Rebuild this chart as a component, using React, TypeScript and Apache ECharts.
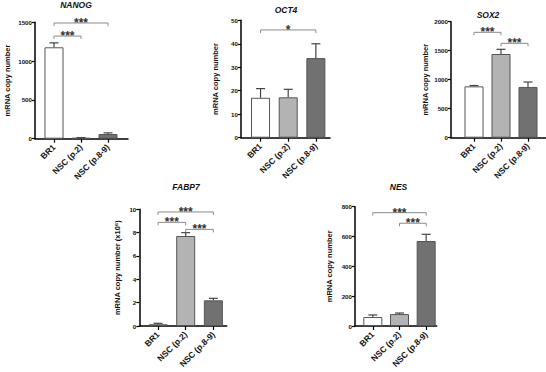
import React, { useEffect, useRef } from "react";
import * as echarts from "echarts";

const categories = ["BR1", "NSC (p.2)", "NSC (p.8-9)"];
const barColors = ["#ffffff", "#b3b3b3", "#717171"];

const nanogMean = [1178, 10, 60];
const nanogUpper = [1235, 14, 75];
const nanogSig = [[0, 1, 1323], [0, 2, 1491]];
const nanogSigLabels = ["***", "***"];

const oct4Mean = [17.0, 17.2, 33.9];
const oct4Upper = [20.9, 20.6, 40.0];
const oct4Sig = [[0, 2, 45.9]];
const oct4SigLabels = ["*"];

const sox2Mean = [885, 1443, 875];
const sox2Upper = [900, 1524, 960];
const sox2Sig = [[0, 1, 1817], [1, 2, 1627]];
const sox2SigLabels = ["***", "***"];

const fabp7Mean = [0.15, 7.71, 2.2];
const fabp7Upper = [0.23, 8.0, 2.37];
const fabp7Sig = [[0, 2, 9.77], [0, 1, 8.88], [1, 2, 8.28]];
const fabp7SigLabels = ["***", "***", "***"];

const nesMean = [60, 80, 570];
const nesUpper = [74, 87, 615];
const nesSig = [[0, 2, 760], [1, 2, 689]];
const nesSigLabels = ["***", "***"];

const yMax = [1500, 50, 2000, 10, 800];
const yInterval = [500, 10, 500, 2, 200];
const titles = ["NANOG", "OCT4", "SOX2", "FABP7", "NES"];
const yNames = [
  "mRNA copy number",
  "mRNA copy number",
  "mRNA copy number",
  "mRNA copy number (x10⁶)",
  "mRNA copy number",
];

const panels = [
  { mean: nanogMean, upper: nanogUpper, sig: nanogSig, sigLabels: nanogSigLabels },
  { mean: oct4Mean, upper: oct4Upper, sig: oct4Sig, sigLabels: oct4SigLabels },
  { mean: sox2Mean, upper: sox2Upper, sig: sox2Sig, sigLabels: sox2SigLabels },
  { mean: fabp7Mean, upper: fabp7Upper, sig: fabp7Sig, sigLabels: fabp7SigLabels },
  { mean: nesMean, upper: nesUpper, sig: nesSig, sigLabels: nesSigLabels },
];

// layout (pixels)
const layout = [
  { axisX: 35, top: 22.3, zero: 138.7, left: 40.5, width: 81, end: 128, nameGap: 24, titleX: 76, titleY: 5 },
  { axisX: 241, top: 20.3, zero: 137.7, left: 246.7, width: 83, end: 330, nameGap: 22, titleX: 286, titleY: 10 },
  { axisX: 451, top: 21.7, zero: 137.7, left: 460.5, width: 81, end: 546, nameGap: 22, titleX: 488, titleY: 15 },
  { axisX: 139.3, top: 209.3, zero: 326, left: 144.2, width: 83, end: 226.7, nameGap: 18, titleX: 186, titleY: 187 },
  { axisX: 355, top: 206.7, zero: 326, left: 359.5, width: 80, end: 436.7, nameGap: 22, titleX: 398.5, titleY: 187 },
];

const FONT = "Liberation Sans, Arial, sans-serif";

export default function App() {
  const ref = useRef<HTMLDivElement>(null);
  useEffect(() => {
    if (!ref.current) return;
    const chart = echarts.init(ref.current, undefined, { renderer: "svg" });
    const grid: any[] = [];
    const xAxis: any[] = [];
    const yAxis: any[] = [];
    const series: any[] = [];
    const graphic: any[] = [];

    panels.forEach((p, i) => {
      const L = layout[i];
      const g = grid.length;
      grid.push({ left: L.left, top: L.top, width: L.width, height: L.zero - L.top });
      grid.push({ left: L.axisX, top: L.top, width: L.end - L.axisX, height: L.zero - L.top });
      xAxis.push({
        type: "category",
        gridIndex: g,
        data: categories,
        axisLine: { show: false },
        axisTick: { show: true, alignWithLabel: true, length: 4, lineStyle: { color: "#000", width: 1.2 } },
        axisLabel: {
          interval: 0,
          rotate: 45,
          fontSize: 8.5,
          fontWeight: "bold",
          fontFamily: FONT,
          color: "#111",
          margin: 7,
        },
        splitLine: { show: false },
      });
      xAxis.push({
        type: "value",
        gridIndex: g + 1,
        min: 0,
        max: 1,
        axisLine: { show: true, onZero: false, lineStyle: { color: "#000", width: 1.5 } },
        axisTick: { show: false },
        axisLabel: { show: false },
        splitLine: { show: false },
      });
      yAxis.push({
        type: "value",
        gridIndex: g,
        min: 0,
        max: yMax[i],
        interval: yInterval[i],
        offset: L.left - L.axisX,
        name: yNames[i],
        nameLocation: "middle",
        nameGap: L.nameGap,
        nameTextStyle: { fontSize: 7.5, fontWeight: "bold", fontFamily: FONT, color: "#111" },
        axisLine: { show: true, lineStyle: { color: "#000", width: 1.5 } },
        axisTick: { show: true, length: 3, lineStyle: { color: "#000", width: 1.2 } },
        axisLabel: {
          fontSize: 6.2,
          fontWeight: "bold",
          fontFamily: FONT,
          color: "#111",
          margin: 3,
          formatter: (v: number) => String(v),
        },
        splitLine: { show: false },
      });
      yAxis.push({ type: "value", gridIndex: g + 1, min: 0, max: 1, show: false });

      const xi = xAxis.length - 2;
      const yi = yAxis.length - 2;

      series.push({
        type: "bar",
        xAxisIndex: xi,
        yAxisIndex: yi,
        barWidth: 19,
        data: p.mean.map((v, k) => ({
          value: v,
          itemStyle: { color: barColors[k], borderColor: "#555", borderWidth: 1 },
        })),
      });
      series.push({
        type: "custom",
        xAxisIndex: xi,
        yAxisIndex: yi,
        clip: false,
        z: 3,
        itemStyle: { color: "#444" },
        encode: { x: 0, y: [1, 2] },
        data: p.mean.map((v, k) => [k, v, p.upper[k]]),
        renderItem: (params: any, api: any) => {
          const a = api.coord([api.value(0), api.value(1)]);
          const b = api.coord([api.value(0), api.value(2)]);
          const st = { stroke: "#444", lineWidth: 1.2 };
          return {
            type: "group",
            children: [
              { type: "line", shape: { x1: a[0], y1: a[1], x2: b[0], y2: b[1] }, style: st },
              { type: "line", shape: { x1: b[0] - 4.5, y1: b[1], x2: b[0] + 4.5, y2: b[1] }, style: st },
            ],
          };
        },
      });
      series.push({
        type: "custom",
        xAxisIndex: xi,
        yAxisIndex: yi,
        clip: false,
        z: 4,
        itemStyle: { color: "#333" },
        encode: { x: [0, 1], y: 2 },
        data: p.sig.map((s) => [s[0], s[1], s[2]]),
        renderItem: (params: any, api: any) => {
          const a = api.coord([api.value(0), api.value(2)]);
          const b = api.coord([api.value(1), api.value(2)]);
          const lbl = p.sigLabels[params.dataIndex];
          return {
            type: "group",
            children: [
              {
                type: "polyline",
                shape: { points: [[a[0], a[1] + 3], [a[0], a[1]], [b[0], b[1]], [b[0], b[1] + 3]] },
                style: { stroke: "#8a8a8a", lineWidth: 1, fill: null },
              },
              {
                type: "text",
                style: {
                  text: lbl,
                  x: (a[0] + b[0]) / 2,
                  y: a[1] + 6,
                  align: "center",
                  verticalAlign: "bottom",
                  fontSize: 12,
                  fontWeight: "bold",
                  fontFamily: FONT,
                  fill: "#333",
                },
              },
            ],
          };
        },
      });

      graphic.push({
        type: "text",
        x: L.titleX,
        y: L.titleY,
        style: {
          text: titles[i],
          align: "center",
          verticalAlign: "middle",
          font: "italic bold 8.5px " + FONT,
          fill: "#111",
        },
      });
    });

    chart.setOption({
      animation: false,
      backgroundColor: "#ffffff",
      grid,
      xAxis,
      yAxis,
      series,
      graphic,
    });
    return () => chart.dispose();
  }, []);
  return (
    <div
      ref={ref}
      style={{ position: "absolute", left: 0, top: 0, width: 546, height: 372, background: "#fff" }}
    />
  );
}
